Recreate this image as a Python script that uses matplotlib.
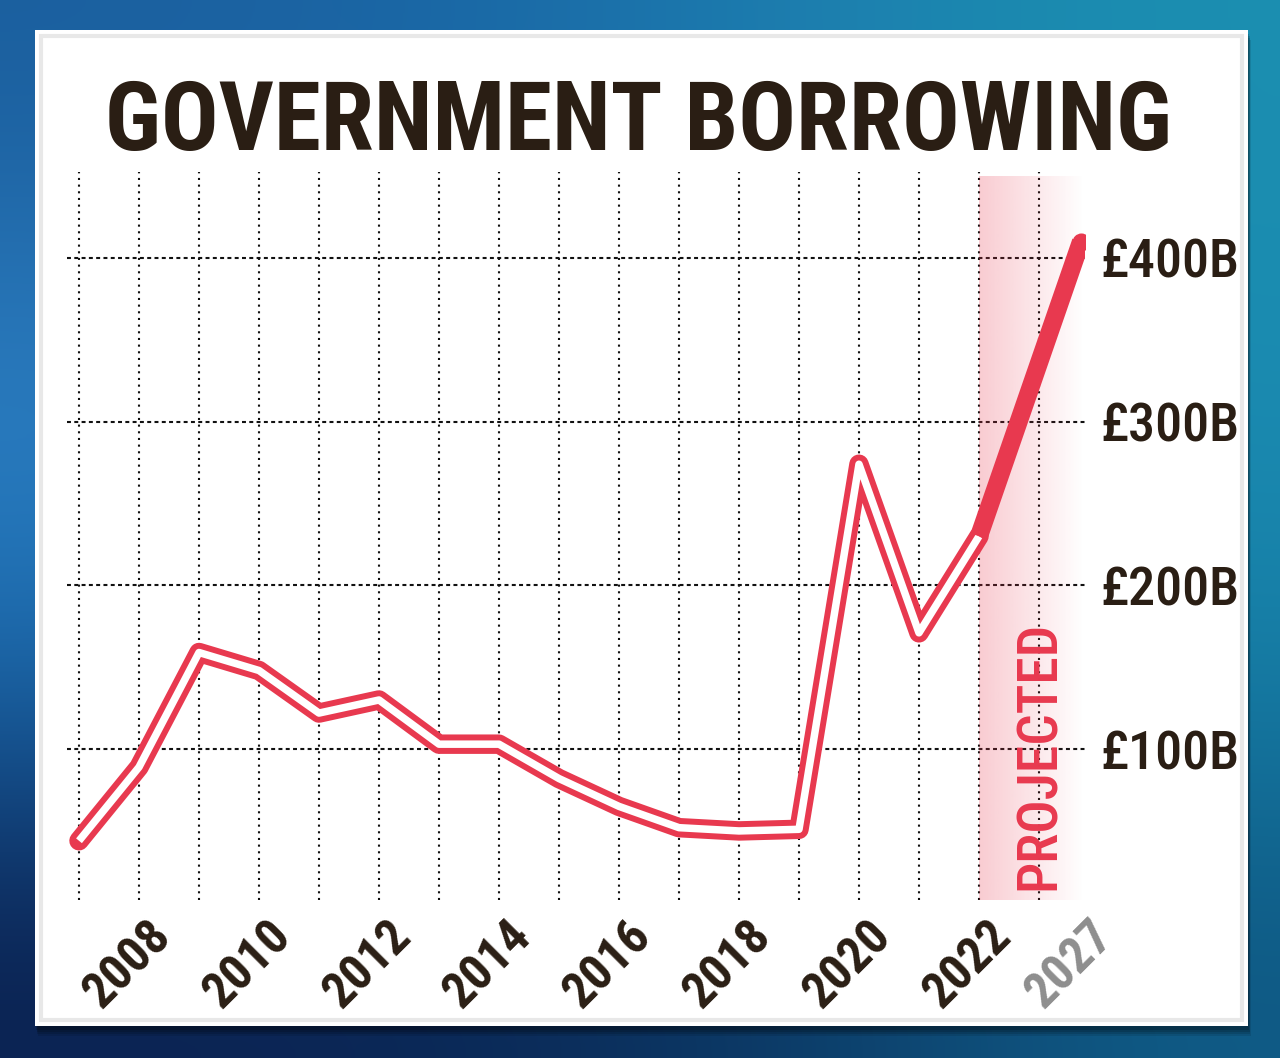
import numpy as np
import matplotlib
matplotlib.use("Agg")
import matplotlib.pyplot as plt
from matplotlib import font_manager
from matplotlib.patches import Rectangle
from matplotlib.transforms import ScaledTranslation
import matplotlib.colors as mcolors

# ---------------- data ----------------
years_actual = [2007, 2008, 2009, 2010, 2011, 2012, 2013, 2014,
                2015, 2016, 2017, 2018, 2019, 2020, 2021, 2022]
borrowing_actual = [44, 89, 159, 148, 122, 130, 103, 103,
                    82, 65, 52, 50, 51, 274, 171, 230]
years_projected = [2022, 2027]
borrowing_projected = [230, 410]
xtick_years = [2008, 2010, 2012, 2014, 2016, 2018, 2020, 2022, 2027]
ytick_values = [100, 200, 300, 400]
ytick_labels = ["£100B", "£200B", "£300B", "£400B"]
title_text = "GOVERNMENT BORROWING"
band_text = "PROJECTED"

RED = "#e8394f"
DARK = "#2a1e14"
GREY = "#8e8e8e"


def xpos(year):
    """annual spacing up to 2022, compressed spacing for the projection horizon"""
    year = np.asarray(year, dtype=float)
    return np.where(year <= 2022, year - 2007, 15 + (year - 2022) * 0.34)


# ---------------- fonts ----------------
names = {f.name for f in font_manager.fontManager.ttflist}


def pick(cands, default="DejaVu Sans"):
    for c in cands:
        if c in names:
            return c
    return default


COND = pick(["Roboto Condensed", "Liberation Sans Narrow", "Open Sans Condensed",
             "DejaVu Sans Condensed"])


def fp(size, weight="bold"):
    return font_manager.FontProperties(family=[COND, "DejaVu Sans"], weight=weight,
                                       stretch="condensed", size=size)


# ---------------- figure ----------------
W, H = 1280, 1058
fig = plt.figure(figsize=(W / 100, H / 100), dpi=100)


def fx(x):
    return x / W


def fy(y):
    return 1 - y / H


# background (photo-like gradient)
bg = fig.add_axes([0, 0, 1, 1], zorder=-10)
cols = [["#1b5f9e", "#1a67a6", "#1d7fb0", "#1b8fb0"],
        ["#2f82c6", "#1d6faa", "#1a7aab", "#1b8cb2"],
        ["#1a6cb0", "#14508e", "#14608f", "#1680a8"],
        ["#0b2150", "#0a2654", "#0c3a66", "#0f5a85"]]
grid = np.array([[mcolors.to_rgb(c) for c in row] for row in cols])
bg.imshow(grid, extent=[0, 1, 0, 1], aspect="auto", interpolation="bicubic")
bg.set_axis_off()

# card shadow, card and inner frame
for i, a in enumerate([0.10, 0.12, 0.14, 0.16]):
    off = 10 - 2 * i
    fig.add_artist(Rectangle((fx(35 + off * 0.3), fy(1026 + off)), 1213 / W, 996 / H,
                             transform=fig.transFigure, fc="black", ec="none",
                             alpha=a, zorder=-6))
fig.add_artist(Rectangle((fx(35), fy(1026)), 1213 / W, 996 / H,
                         transform=fig.transFigure, fc="white", ec="none", zorder=-5))
fig.add_artist(Rectangle((fx(41), fy(1020)), 1201 / W, 984 / H,
                         transform=fig.transFigure, fill=False, ec="#e8e8e8",
                         lw=3, zorder=-4))

# title
title = fig.text(fx(638), fy(150), title_text, ha="center", va="baseline",
                 color=DARK, fontproperties=fp(80, "heavy"))
fig.canvas.draw()
r = fig.canvas.get_renderer()
bb = title.get_window_extent(r)
title.set_fontsize(80 * 1067 / bb.width)

# main axes
X0, X1 = -0.2, 16.767
Y0, Y1 = 7.82, 452.5
ax = fig.add_axes([fx(67), fy(900), 1018 / W, 728 / H], zorder=0)
ax.patch.set_alpha(0)
ax.set_xlim(X0, X1)
ax.set_ylim(Y0, Y1)
for s in ax.spines.values():
    s.set_visible(False)

# grid
ax.xaxis.remove_overlapping_locs = False
ax.set_xticks(np.arange(0, 17), minor=True)
ax.grid(axis="x", which="minor", color="#111111", lw=1.5, linestyle=(0, (1.0, 2.2)))
ax.set_yticks(ytick_values, ytick_labels)
ax.grid(axis="y", which="major", color="#111111", lw=1.5, linestyle=(0, (1.9, 1.6)))
ax.set_axisbelow(True)

# projected band (pink gradient fading right)
n = 200
alpha = np.linspace(0.26, 0.0, n)
band = np.zeros((1, n, 4))
band[..., :3] = mcolors.to_rgb(RED)
band[0, :, 3] = alpha
ax.imshow(band, extent=[xpos(2022), 16.75, Y0, 449.5], aspect="auto",
          interpolation="bilinear", zorder=1)

# lines
xa = xpos(years_actual)
ax.plot(xa, borrowing_actual, color=RED, lw=14, solid_joinstyle="round",
        solid_capstyle="round", zorder=3)
ax.plot(xa, borrowing_actual, color="white", lw=5.4, solid_joinstyle="round",
        solid_capstyle="butt", zorder=4)
xp = xpos(years_projected)
ax.plot(xp, borrowing_projected, color=RED, lw=13, solid_capstyle="butt", zorder=5)
ax.plot(xp[-1:], borrowing_projected[-1:], "o", ms=13, color=RED, mec="none", zorder=5)

# projected label
ax.text(16.0, 14, band_text, rotation=90, ha="center", va="bottom", color=RED,
        fontproperties=fp(40, "medium"), zorder=6)

# y tick labels on the right
ax.yaxis.tick_right()
ax.tick_params(axis="y", which="both", length=0, pad=10.8)
for lab in ax.get_yticklabels():
    lab.set_fontproperties(fp(39, 500))
    lab.set_color(DARK)

# x tick labels rotated
ax.set_xticks(xpos(xtick_years), [str(y) for y in xtick_years])
ax.tick_params(axis="x", which="major", length=0, pad=21)
ax.tick_params(axis="x", which="minor", length=0)
shift = ScaledTranslation(24 / 100, 0, fig.dpi_scale_trans)
for lab, yr in zip(ax.get_xticklabels(), xtick_years):
    lab.set_fontproperties(fp(36, "bold"))
    lab.set_rotation(45)
    lab.set_ha("right")
    lab.set_va("center")
    lab.set_rotation_mode("anchor")
    lab.set_color(GREY if yr > 2022 else DARK)
    lab.set_transform(lab.get_transform() + shift)

fig.savefig("out.png", dpi=100)
